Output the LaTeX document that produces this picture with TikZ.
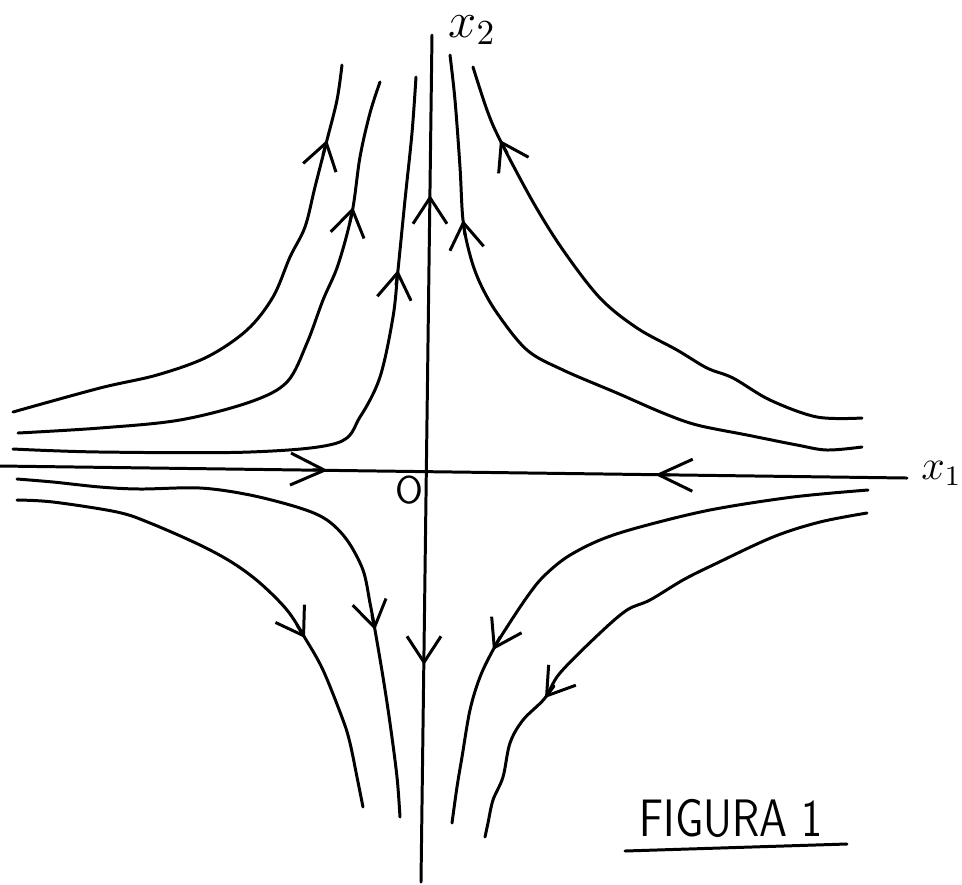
\documentclass[tikz,border=0pt]{standalone}
\usetikzlibrary{arrows.meta}

\begin{document}
\begin{tikzpicture}[x=0.1mm,y=-0.1mm,line width=0.85pt,line cap=round,line join=round,
    orbit/.style={smooth,tension=0.55},
    flowarrow/.style={-{Straight Barb[length=2.6mm,width=3.4mm]}},
    axisarrow/.style={-{Straight Barb[length=3.4mm,width=3.2mm]}}]
  \useasboundingbox (0,0) rectangle (962,884);

  % axes
  \draw (0,466) -- (907,478);
  \draw (432,35) -- (421,882);
  \node[font=\fontsize{12}{14}\selectfont,anchor=base west,inner sep=0pt] (lx1) at (920,479) {$x_1$};
  \node[font=\fontsize{14.4}{17}\selectfont,anchor=base west,inner sep=0pt] (lx2) at (447,37) {$x_2$};
  \node[font=\fontsize{11}{13}\selectfont\sffamily,inner sep=0pt] (lo) at (409,490) {O};

  % upper left orbits
  \draw plot[orbit] coordinates {(13,412) (100,388) (157,375) (207,357) (247,330) (273,297)
    (290,257) (305,227) (315,187) (327,140) (337,100) (342,65)};
  \draw plot[orbit] coordinates {(18,433) (100,428) (180,420) (250,402) (287,382) (307,343)
    (323,300) (338,265) (352,213) (360,157) (370,113) (380,82)};
  \draw plot[orbit] coordinates {(13,449) (100,452) (250,452) (337,443) (360,417) (380,377)
    (393,317) (398,270) (405,200) (412,133) (416,77)};

  % upper right orbits
  \draw plot[orbit] coordinates {(450,55) (455,100) (460,167) (463,220) (470,255) (480,283)
    (497,313) (527,350) (563,370) (617,393) (663,413) (697,425) (747,435) (797,445)
    (827,450) (862,447)};
  \draw plot[orbit] coordinates {(473,67) (487,110) (500,140) (533,202) (563,250) (600,298)
    (637,328) (677,350) (707,368) (733,378) (770,400) (817,417) (862,418)};

  % lower left orbits
  \draw plot[orbit] coordinates {(17,479) (53,482) (100,487) (140,489) (200,488) (250,495)
    (300,508) (327,520) (347,540) (363,570) (370,603) (375,630) (383,677) (390,723)
    (397,777) (400,817)};
  \draw plot[orbit] coordinates {(17,500) (53,502) (117,512) (150,523) (200,545) (233,563)
    (260,583) (287,610) (305,638) (323,670) (343,720) (350,743) (357,777) (363,807)};

  % lower right orbits
  \draw plot[orbit] coordinates {(868,490) (793,497) (710,510) (640,527) (600,540) (567,557)
    (543,577) (527,597) (507,627) (493,650) (480,677) (470,710) (462,757) (457,787)
    (452,823)};
  \draw plot[orbit] coordinates {(867,513) (820,522) (773,537) (713,565) (683,580) (650,600)
    (627,610) (600,633) (560,673) (545,698) (523,720) (510,743) (503,777) (493,800)
    (488,823) (485,837)};

  % direction of the flow
  \foreach \xa/\ya/\xb/\yb in {323/155/327/140, 350/222/353/207, 396/285/398/270,
      430/210/430/195, 465/235/463/220, 507/153/500/140, 372/615/375/630,
      297/625/305/638, 424/650/424/665, 500/637/493/650, 554/686/545/698}{
    \draw[flowarrow] (\xa,\ya) -- (\xb,\yb);
  }
  \draw[axisarrow] (313,469.8) -- (328,470.3);
  \draw[axisarrow] (670,474.9) -- (655,474.7);

  % caption
  \node[font=\fontsize{15}{18}\selectfont\sffamily,anchor=base west,inner sep=0pt] (cap) at (638,836)
    {\scalebox{0.82}[1]{FIGURA 1}};
  \draw (625,851) -- (847,844);
\end{tikzpicture}
\end{document}
